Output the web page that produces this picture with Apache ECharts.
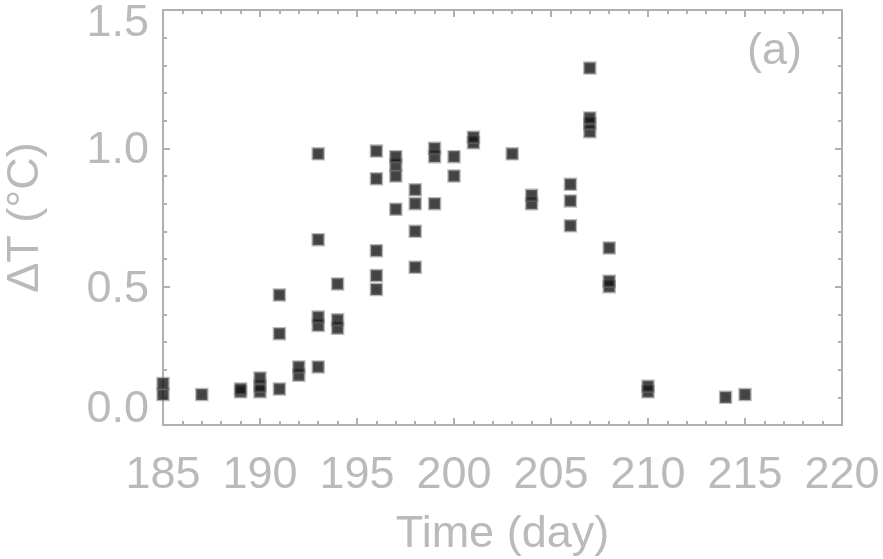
<!DOCTYPE html>
<html>
<head>
<meta charset="utf-8">
<script src="https://cdn.jsdelivr.net/npm/echarts@6/dist/echarts.min.js"></script>
<style>html,body{margin:0;padding:0;background:#fff}#c{width:883px;height:559px}</style>
</head>
<body>
<div id="c"></div>
<script>
// Day of year and temperature difference (°C)
const days  = [185, 185, 187, 189, 189, 190, 190, 190, 191, 191, 191, 192, 192,
               193, 193, 193, 193, 193, 194, 194, 194,
               196, 196, 196, 196, 196, 197, 197, 197, 197,
               198, 198, 198, 198, 199, 199, 199, 200, 200, 201, 201,
               203, 204, 204, 206, 206, 206, 207, 207, 207, 207,
               208, 208, 208, 210, 210, 214, 215];
const deltaT = [0.11, 0.15, 0.11, 0.12, 0.13, 0.12, 0.14, 0.17, 0.13, 0.33, 0.47, 0.18, 0.21,
               0.21, 0.36, 0.39, 0.67, 0.98, 0.35, 0.38, 0.51,
               0.49, 0.54, 0.63, 0.89, 0.99, 0.78, 0.90, 0.94, 0.97,
               0.57, 0.70, 0.80, 0.85, 0.80, 0.97, 1.00, 0.90, 0.97, 1.02, 1.04,
               0.98, 0.80, 0.83, 0.72, 0.81, 0.87, 1.06, 1.09, 1.11, 1.29,
               0.50, 0.52, 0.64, 0.12, 0.14, 0.10, 0.11];
const xTicks = [185, 190, 195, 200, 205, 210, 215, 220];
const yTicks = [0.0, 0.5, 1.0, 1.5];

const points = days.map((d, i) => [d, deltaT[i]]);
const gray = '#bababa';
const axisGray = '#b0b0b0';
const font = 'Liberation Sans, Arial, sans-serif';
const labelStyle = {color: gray, fontFamily: font, fontSize: 45};

function xAx(pos, labels) {
  return {
    type: 'value', position: pos, min: xTicks[0], max: xTicks[xTicks.length - 1], interval: 5,
    axisLine: {show: true, onZero: false, lineStyle: {color: axisGray, width: 2}},
    axisTick: {show: true, inside: true, length: 7, lineStyle: {color: axisGray, width: 2}},
    minorTick: {show: true, splitNumber: 5, length: 4, lineStyle: {color: axisGray, width: 2}},
    splitLine: {show: false},
    axisLabel: labels ? {show: true, color: gray, fontFamily: font, fontSize: 45, margin: 28,
                         formatter: v => String(v)} : {show: false},
    name: labels ? 'Time (day)' : '', nameLocation: 'middle', nameGap: 87,
    nameTextStyle: {color: gray, fontFamily: font, fontSize: 45}
  };
}
function yAx(pos, labels) {
  const lo = yTicks[0], hi = yTicks[yTicks.length - 1];
  return {
    type: 'value', position: pos, min: lo, max: hi, interval: 0.5,
    axisLine: {show: true, onZero: false, lineStyle: {color: axisGray, width: 2}},
    axisTick: {show: true, inside: true, length: 7, lineStyle: {color: axisGray, width: 2}},
    minorTick: {show: true, splitNumber: 5, length: 4, lineStyle: {color: axisGray, width: 2}},
    splitLine: {show: false},
    axisLabel: labels ? {show: true, margin: 14,
                         formatter: v => {
                           const t = v.toFixed(1);
                           if (Math.abs(v - hi) < 1e-9) return '{hi|' + t + '}';
                           if (Math.abs(v - lo) < 1e-9) return '{lo|' + t + '}';
                           return '{mid|' + t + '}';
                         },
                         rich: {
                           hi: Object.assign({padding: [28, 0, 0, 0]}, labelStyle),
                           lo: Object.assign({padding: [0, 0, 30, 0]}, labelStyle),
                           mid: Object.assign({padding: [5, 0, 0, 0]}, labelStyle)
                         }} : {show: false},
    name: labels ? 'ΔT (°C)' : '', nameLocation: 'middle', nameGap: 115, nameRotate: 90,
    nameTextStyle: {color: gray, fontFamily: font, fontSize: 45}
  };
}

const chart = echarts.init(document.getElementById('c'), null, {renderer: 'canvas'});
chart.setOption({
  animation: false,
  backgroundColor: '#fff',
  grid: {left: 163, right: 41, top: 10, bottom: 134, containLabel: false, outerBoundsMode: 'none'},
  xAxis: [xAx('bottom', true), xAx('top', false)],
  yAxis: [yAx('left', true), yAx('right', false)],
  graphic: [{
    type: 'text', left: 747, top: 29,
    style: {text: '(a)', fill: gray, font: '45px Liberation Sans, Arial, sans-serif'}
  }],
  series: [{
    type: 'scatter', xAxisIndex: 0, yAxisIndex: 0, data: points,
    symbol: 'rect', symbolSize: 11, clip: true,
    itemStyle: {color: '#141414', borderColor: 'rgba(110,110,110,0.6)', borderWidth: 2.5}
  }]
});
</script>
</body>
</html>
